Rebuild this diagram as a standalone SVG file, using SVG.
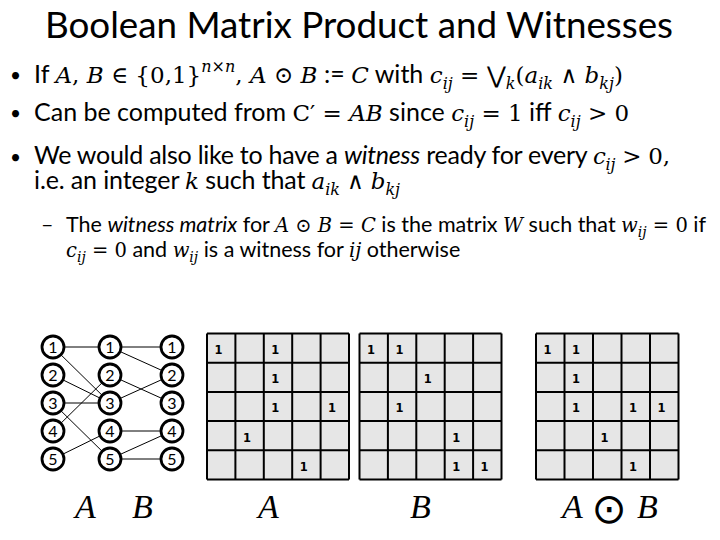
<svg xmlns="http://www.w3.org/2000/svg" width="720" height="540" viewBox="0 0 720 540">
<style>
.t{font-family:Lato,"Noto Sans",sans-serif;font-size:37px;fill:#000}
.b{font-family:Lato,"Noto Sans",sans-serif;font-size:25px;fill:#000}
.sb{font-family:Lato,"Noto Sans",sans-serif;font-size:21.5px;fill:#000}
.dot{font-family:Lato,"Noto Sans",sans-serif;font-size:19px;fill:#000}
.m{font-family:"DejaVu Serif",serif;font-size:23px}
.sb .m{font-size:19.5px}
.i{font-style:italic}
.s{font-size:16px}
.sb .s2{font-size:14px}
.node circle{fill:#fff;stroke:#000;stroke-width:2.8}
.node text{font-family:Lato,"Noto Sans",sans-serif;font-size:16px;text-anchor:middle;fill:#000}
.edges line{stroke:#000;stroke-width:1}
.cellbg{fill:#e6e6e6}
.grid{fill:none;stroke:#000;stroke-width:2}
.v{font-family:"DejaVu Sans",sans-serif;font-size:11.5px;font-weight:bold;text-anchor:middle;fill:#000}
.lab{font-family:"Liberation Serif","DejaVu Serif",serif;font-style:italic;font-size:34px;fill:#000}
.odot{font-family:"DejaVu Sans",sans-serif;font-size:42px;text-anchor:middle;fill:#000}
</style>

<text class="t" x="45" y="38" textLength="628" lengthAdjust="spacingAndGlyphs">Boolean Matrix Product and Witnesses</text>

<g id="bullets">
<text class="dot" x="10" y="82">•</text>
<text class="dot" x="10" y="120">•</text>
<text class="dot" x="10" y="164">•</text>
<text class="sb" x="41" y="232">–</text>
</g>

<text class="b" x="34" y="83" textLength="589">If <tspan class="m i">A</tspan><tspan class="m">, </tspan><tspan class="m i">B</tspan><tspan class="m"> ∈ {0,1}</tspan><tspan class="m i s" dy="-11">n×n</tspan><tspan class="m" dy="11">, </tspan><tspan class="m i">A</tspan><tspan class="m"> ⊙ </tspan><tspan class="m i">B</tspan> := <tspan class="m i">C</tspan> with <tspan class="m i">c</tspan><tspan class="m i s" dy="6">ij</tspan><tspan class="m" dy="-6"> = ⋁</tspan><tspan class="m i s" dy="6">k</tspan><tspan class="m" dy="-6">(</tspan><tspan class="m i">a</tspan><tspan class="m i s" dy="6">ik</tspan><tspan class="m" dy="-6"> ∧ </tspan><tspan class="m i">b</tspan><tspan class="m i s" dy="6">kj</tspan><tspan class="m" dy="-6">)</tspan></text>

<text class="b" x="34" y="121">Can be computed from <tspan class="m">C′ = </tspan><tspan class="m i">AB</tspan> since <tspan class="m i">c</tspan><tspan class="m i s" dy="6">ij</tspan><tspan class="m" dy="-6"> = 1</tspan> iff <tspan class="m i">c</tspan><tspan class="m i s" dy="6">ij</tspan><tspan class="m" dy="-6"> &gt; 0</tspan></text>

<text class="b" x="34" y="164" textLength="636">We would also like to have a <tspan class="i">witness</tspan> ready for every <tspan class="m i">c</tspan><tspan class="m i s" dy="6">ij</tspan><tspan class="m" dy="-6"> &gt; 0,</tspan></text>

<text class="b" x="34" y="189" textLength="366">i.e. an integer <tspan class="m i">k</tspan> such that <tspan class="m i">a</tspan><tspan class="m i s" dy="6">ik</tspan><tspan class="m" dy="-6"> ∧ </tspan><tspan class="m i">b</tspan><tspan class="m i s" dy="6">kj</tspan></text>

<text class="sb" x="66" y="232">The <tspan class="i">witness matrix</tspan> for <tspan class="m i">A</tspan><tspan class="m"> ⊙ </tspan><tspan class="m i">B</tspan><tspan class="m"> = </tspan><tspan class="m i">C</tspan> is the matrix <tspan class="m i">W</tspan> such that <tspan class="m i">w</tspan><tspan class="m i s2" dy="5">ij</tspan><tspan class="m" dy="-5"> = 0</tspan> if</text>

<text class="sb" x="66" y="257"><tspan class="m i">c</tspan><tspan class="m i s2" dy="5">ij</tspan><tspan class="m" dy="-5"> = 0</tspan> and <tspan class="m i">w</tspan><tspan class="m i s2" dy="5">ij</tspan><tspan dy="-5"> is a witness for </tspan><tspan class="m i">ij</tspan> otherwise</text>

<g id="connectors" class="edges">
<line x1="53" y1="347" x2="110" y2="347"/>
<line x1="53" y1="347" x2="110" y2="403"/>
<line x1="53" y1="375" x2="110" y2="403"/>
<line x1="53" y1="403" x2="110" y2="403"/>
<line x1="53" y1="403" x2="110" y2="459"/>
<line x1="53" y1="431" x2="110" y2="375"/>
<line x1="53" y1="459" x2="110" y2="431"/>
<line x1="110" y1="347" x2="172" y2="347"/>
<line x1="110" y1="347" x2="172" y2="375"/>
<line x1="110" y1="375" x2="172" y2="403"/>
<line x1="110" y1="403" x2="172" y2="375"/>
<line x1="110" y1="431" x2="172" y2="431"/>
<line x1="110" y1="459" x2="172" y2="431"/>
<line x1="110" y1="459" x2="172" y2="459"/>
</g>

<g id="n-l1" class="node"><circle cx="53" cy="347" r="11"/><text x="53" y="352.5">1</text></g>
<g id="n-l2" class="node"><circle cx="53" cy="375" r="11"/><text x="53" y="380.5">2</text></g>
<g id="n-l3" class="node"><circle cx="53" cy="403" r="11"/><text x="53" y="408.5">3</text></g>
<g id="n-l4" class="node"><circle cx="53" cy="431" r="11"/><text x="53" y="436.5">4</text></g>
<g id="n-l5" class="node"><circle cx="53" cy="459" r="11"/><text x="53" y="464.5">5</text></g>
<g id="n-m1" class="node"><circle cx="110" cy="347" r="11"/><text x="110" y="352.5">1</text></g>
<g id="n-m2" class="node"><circle cx="110" cy="375" r="11"/><text x="110" y="380.5">2</text></g>
<g id="n-m3" class="node"><circle cx="110" cy="403" r="11"/><text x="110" y="408.5">3</text></g>
<g id="n-m4" class="node"><circle cx="110" cy="431" r="11"/><text x="110" y="436.5">4</text></g>
<g id="n-m5" class="node"><circle cx="110" cy="459" r="11"/><text x="110" y="464.5">5</text></g>
<g id="n-r1" class="node"><circle cx="172" cy="347" r="11"/><text x="172" y="352.5">1</text></g>
<g id="n-r2" class="node"><circle cx="172" cy="375" r="11"/><text x="172" y="380.5">2</text></g>
<g id="n-r3" class="node"><circle cx="172" cy="403" r="11"/><text x="172" y="408.5">3</text></g>
<g id="n-r4" class="node"><circle cx="172" cy="431" r="11"/><text x="172" y="436.5">4</text></g>
<g id="n-r5" class="node"><circle cx="172" cy="459" r="11"/><text x="172" y="464.5">5</text></g>

<text class="lab" x="75" y="518">A</text>
<text class="lab" x="132" y="518">B</text>

<g id="matrix-A">
<rect class="cellbg" x="207" y="333.5" width="142" height="146"/>
<path class="grid" d="M207 333.5V479.5M235.4 333.5V479.5M263.8 333.5V479.5M292.2 333.5V479.5M320.6 333.5V479.5M349 333.5V479.5M207 333.5H349M207 362.7H349M207 391.9H349M207 421.1H349M207 450.3H349M207 479.5H349"/>
<text class="v" x="218.5" y="354">1</text>
<text class="v" x="275.3" y="354">1</text>
<text class="v" x="275.3" y="383.2">1</text>
<text class="v" x="275.3" y="412.4">1</text>
<text class="v" x="332.1" y="412.4">1</text>
<text class="v" x="246.9" y="441.6">1</text>
<text class="v" x="303.7" y="470.8">1</text>
<text class="lab" x="258" y="518">A</text>
</g>

<g id="matrix-B">
<rect class="cellbg" x="359.5" y="333.5" width="142" height="146"/>
<path class="grid" d="M359.5 333.5V479.5M387.9 333.5V479.5M416.3 333.5V479.5M444.7 333.5V479.5M473.1 333.5V479.5M501.5 333.5V479.5M359.5 333.5H501.5M359.5 362.7H501.5M359.5 391.9H501.5M359.5 421.1H501.5M359.5 450.3H501.5M359.5 479.5H501.5"/>
<text class="v" x="371" y="354">1</text>
<text class="v" x="399.4" y="354">1</text>
<text class="v" x="427.8" y="383.2">1</text>
<text class="v" x="399.4" y="412.4">1</text>
<text class="v" x="456.2" y="441.6">1</text>
<text class="v" x="456.2" y="470.8">1</text>
<text class="v" x="484.6" y="470.8">1</text>
<text class="lab" x="410" y="518">B</text>
</g>

<g id="matrix-C">
<rect class="cellbg" x="536" y="333.5" width="142.5" height="146"/>
<path class="grid" d="M536 333.5V479.5M564.5 333.5V479.5M593 333.5V479.5M621.5 333.5V479.5M650 333.5V479.5M678.5 333.5V479.5M536 333.5H678.5M536 362.7H678.5M536 391.9H678.5M536 421.1H678.5M536 450.3H678.5M536 479.5H678.5"/>
<text class="v" x="547.5" y="354">1</text>
<text class="v" x="576" y="354">1</text>
<text class="v" x="576" y="383.2">1</text>
<text class="v" x="576" y="412.4">1</text>
<text class="v" x="633" y="412.4">1</text>
<text class="v" x="661.5" y="412.4">1</text>
<text class="v" x="604.5" y="441.6">1</text>
<text class="v" x="633" y="470.8">1</text>
<text class="lab" x="562" y="518">A</text>
<text class="odot" x="609" y="523">⊙</text>
<text class="lab" x="637" y="518">B</text>
</g>
</svg>
